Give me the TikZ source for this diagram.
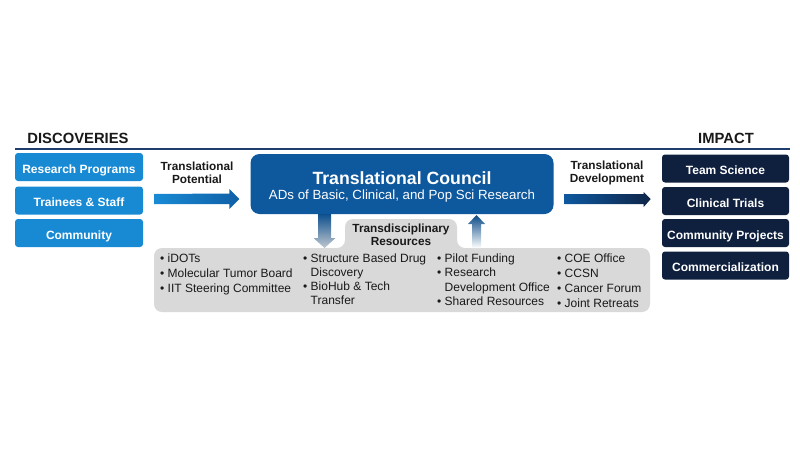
\documentclass[tikz,border=0pt]{standalone}
\usepackage{fontspec}
\setmainfont{Liberation Sans}
\usetikzlibrary{calc}
\definecolor{lblue}{RGB}{24,138,212}
\definecolor{cblue}{RGB}{14,88,158}
\definecolor{navy}{RGB}{15,31,62}
\definecolor{gbox}{RGB}{217,217,217}
\definecolor{rule}{RGB}{30,60,110}
\definecolor{txt}{RGB}{25,25,25}
\begin{document}
\begin{tikzpicture}[x=1pt,y=-1pt,
  lbox/.style={fill=lblue, rounded corners=3pt, minimum width=128pt, minimum height=28pt, inner sep=0pt, text=white, text height=12pt, text depth=0pt, font=\bfseries\fontsize{12}{13}\selectfont},
  rbox/.style={fill=navy, rounded corners=3pt, minimum width=127pt, minimum height=28pt, inner sep=0pt, text=white, text height=12pt, text depth=0pt, font=\bfseries\fontsize{12}{13}\selectfont},
  head/.style={font=\bfseries\fontsize{14.8}{16}\selectfont, text=txt, inner sep=0pt},
  lbl/.style={font=\bfseries\fontsize{11.8}{13}\selectfont, text=txt, align=center, inner sep=0pt},
  item/.style={font=\fontsize{12}{15}\selectfont, text=txt, align=left, inner sep=0pt, anchor=north west}
]
\useasboundingbox (0,0) rectangle (800,450);

% headers and rule
\node[head] (disc) at (78,138) {DISCOVERIES};
\node[head] (imp) at (726,138) {IMPACT};
\coordinate (rl) at (15,149);
\coordinate (rr) at (790,149);
\draw[rule, line width=1.2pt] (rl) -- (rr);

% left boxes
\node[lbox] (l1) at (79,167) {Research Programs};
\node[lbox] (l2) at (79,200.5) {Trainees \& Staff};
\node[lbox] (l3) at (79,233) {Community};

% right boxes
\node[rbox] (r1) at (725.5,168.5) {Team Science};
\node[rbox] (r2) at (725.5,201) {Clinical Trials};
\node[rbox] (r3) at (725.5,233) {Community Projects};
\node[rbox] (r4) at (725.5,265.5) {Commercialization};

% grey resources panel
\fill[gbox, rounded corners=8pt] (154,312) -- (154,248) -- (345,248) -- (345,219) -- (457,219) -- (457,248) -- (650,248) -- (650,312) -- cycle;
\node[lbl] (tr) at (401,234.5) {Transdisciplinary\\Resources};

% central council
\node[fill=cblue, rounded corners=9pt, minimum width=303pt, minimum height=60pt, inner sep=0pt] (tc) at (402,184) {};
\node[text=white, inner sep=0pt, font=\bfseries\fontsize{17.7}{19}\selectfont] (tct) at (402,178) {Translational Council};
\node[text=white, inner sep=0pt, font=\fontsize{13.3}{15}\selectfont] (tcs) at (402,196.5) {ADs of Basic, Clinical, and Pop Sci Research};

% arrow labels
\node[lbl] (tp) at (197,172.5) {Translational\\Potential};
\node[lbl] (td) at (607,172.5) {Translational\\Development};

% horizontal block arrows
\shade[left color=lblue, right color=cblue!85!lblue]
  ($(l2.east)+(11,-6.5)$) -- ($(tc.west)+(-21,9.5)$) -- ($(tc.west)+(-21,5)$) -- ($(tc.west)+(-11,15)$) -- ($(tc.west)+(-21,25)$) -- ($(tc.west)+(-21,20)$) -- ($(l2.east)+(11,3.5)$) -- cycle;
\shade[left color=cblue, right color=navy!90!cblue]
  ($(tc.east)+(11,10)$) -- ($(tc.east)+(90,10)$) -- ($(tc.east)+(90,8)$) -- ($(tc.east)+(97,15)$) -- ($(tc.east)+(90,23)$) -- ($(tc.east)+(90,20)$) -- ($(tc.east)+(11,20)$) -- cycle;

% vertical block arrows
\coordinate (dtop) at (324.5,214);
\coordinate (utop) at (476.5,215);
\shade[top color=cblue!90!black, bottom color=cblue!25!gray!40!white]
  ($(dtop)+(-6.5,0)$) -- ($(dtop)+(6.5,0)$) -- ($(dtop)+(6.5,24)$) -- ($(dtop)+(11,24)$) -- ($(dtop)+(0,34)$) -- ($(dtop)+(-11,24)$) -- ($(dtop)+(-6.5,24)$) -- cycle;
\shade[top color=cblue!85!black, bottom color=white]
  ($(utop)+(0,0)$) -- ($(utop)+(8.5,9)$) -- ($(utop)+(4.5,9)$) -- ($(utop)+(4.5,33)$) -- ($(utop)+(-4.5,33)$) -- ($(utop)+(-4.5,9)$) -- ($(utop)+(-8.5,9)$) -- cycle;

% resource lists
\node[item] (c1) at (160,253.5) {• iDOTs\\• Molecular Tumor Board\\• IIT Steering Committee};
\node[item, font=\fontsize{12}{14}\selectfont] (c2) at (303,253.5) {• Structure Based Drug\\\hphantom{• }Discovery\\• BioHub \& Tech\\\hphantom{• }Transfer};
\node[item, font=\fontsize{12}{14.5}\selectfont] (c3) at (437,253.5) {• Pilot Funding\\• Research\\\hphantom{• }Development Office\\• Shared Resources};
\node[item] (c4) at (557,253.5) {• COE Office\\• CCSN\\• Cancer Forum\\• Joint Retreats};
\end{tikzpicture}
\end{document}
